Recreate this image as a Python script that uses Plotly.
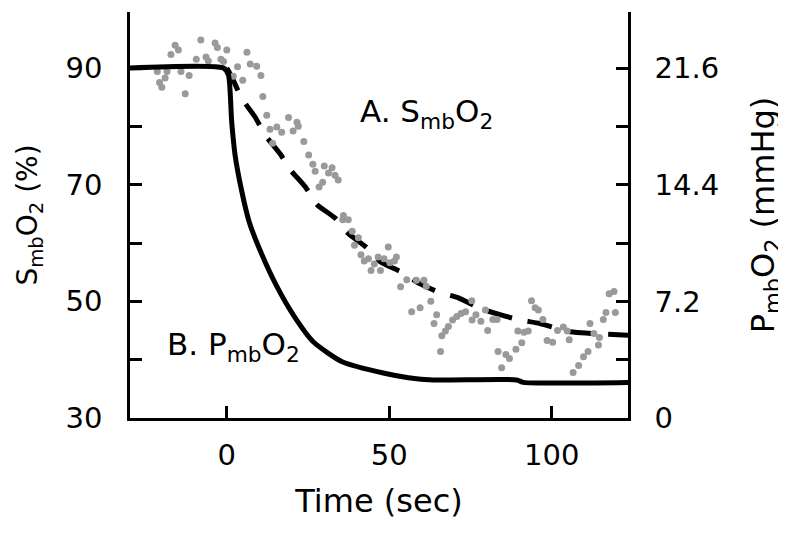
import plotly.graph_objects as go

# Measured SmbO2 (%) data points (gray dots)
t_meas = [-21.4, -20.7, -20.0, -19.0, -18.4, -17.2, -15.9, -14.9, -14.1, -12.8,
          -11.6, -9.4, -8.0, -6.4, -5.7, -3.6, -2.9, -1.8, -1.0, 0.0,
          2.0, 3.3, 4.9, 6.2, 7.2, 9.2, 10.5, 11.1, 12.3, 13.3,
          14.1, 15.4, 16.9, 19.0, 20.4, 21.6, 22.0, 23.7, 25.2, 26.5,
          27.2, 28.4, 29.5, 30.0, 31.3, 32.4, 33.3, 34.3, 35.7, 35.9,
          37.4, 38.6, 39.3, 40.5, 41.3, 42.3, 43.6, 44.4, 45.4, 46.6,
          47.3, 48.4, 49.7, 50.2, 51.6, 52.2, 53.5, 55.4, 56.9, 58.4,
          59.5, 60.7, 61.4, 62.8, 64.6, 63.8, 65.8, 66.2, 67.3, 68.2,
          69.5, 70.8, 72.1, 73.5, 75.4, 76.7, 75.5, 78.2, 79.6, 80.3,
          81.9, 83.2, 83.5, 84.6, 85.9, 87.0, 89.0, 89.6, 90.8, 91.5,
          92.8, 93.8, 94.9, 95.9, 97.3, 98.6, 100.3, 101.8, 103.6, 104.8,
          105.4, 106.6, 108.3, 109.8, 111.2, 111.8, 113.0, 114.4, 114.7, 115.9,
          116.7, 117.7, 119.2, 119.6]
s_meas = [89.4, 87.5, 86.7, 88.3, 89.4, 92.3, 93.9, 93.1, 89.4, 85.6,
          88.7, 91.5, 94.8, 91.9, 91.2, 94.3, 93.5, 91.5, 91.1, 93.1,
          88.6, 90.2, 87.9, 92.7, 90.7, 90.3, 88.7, 85.1, 81.9, 79.5,
          77.1, 79.9, 79.0, 81.5, 79.2, 80.7, 80.0, 77.4, 75.1, 73.5,
          72.3, 69.6, 70.4, 73.2, 72.0, 72.9, 71.6, 70.8, 64.0, 64.7,
          64.0, 62.0, 59.6, 60.9, 58.0, 56.9, 57.3, 55.3, 56.4, 57.6,
          55.3, 57.3, 59.3, 56.6, 56.9, 57.6, 52.5, 53.7, 48.2, 53.6,
          48.9, 53.6, 52.6, 50.0, 47.7, 46.2, 41.4, 44.1, 44.9, 45.7,
          46.8, 47.4, 47.9, 48.2, 50.1, 47.7, 46.8, 46.6, 48.5, 45.0,
          46.9, 46.9, 41.4, 38.6, 40.9, 40.2, 41.8, 44.9, 42.9, 44.7,
          44.9, 50.1, 48.9, 48.5, 46.9, 43.3, 43.0, 45.0, 45.6, 44.9,
          43.4, 37.8, 39.0, 40.5, 41.4, 46.2, 44.5, 42.5, 43.8, 46.9,
          48.1, 51.3, 51.7, 48.1]

# Model curve A: SmbO2 (%) (dashed)
t_model_s = [0.0, 1.5, 4.6, 8.7, 11.8, 16.4, 19.5, 24.2, 27.7, 33.3, 37.3, 43.1,
             47.2, 53.8, 59.5, 65.6, 71.3, 77.9, 83.6, 90.2, 96.4, 104.6, 109.2,
             116.4, 123.5]
s_model = [90.0, 88.5, 84.8, 81.6, 78.5, 75.3, 72.6, 69.6, 66.6, 64.3, 61.7, 59.2,
           56.8, 55.0, 53.0, 51.5, 50.6, 48.8, 47.8, 46.8, 46.2, 44.9, 44.6,
           44.4, 44.2]

# Model curve B: PmbO2 (mmHg) (solid, right axis)
t_model_p = [-30.0, -1.0, 0.5, 1.5, 2.55, 4.4, 6.9, 10.2, 15.2, 20.7, 26.6, 35.5,
             48.5, 55.9, 63.5, 89.2, 91.3, 124.0]
p_model = [21.6, 21.6, 21.17, 18.29, 16.23, 14.19, 12.1, 10.37, 8.2, 6.29, 4.71, 3.47,
           2.76, 2.49, 2.35, 2.35, 2.2, 2.2]

left_ticks = [30, 40, 50, 60, 70, 80, 90]
left_labels = ["30", "", "50", "", "70", "", "90"]
right_ticks = [0, 3.6, 7.2, 10.8, 14.4, 18.0, 21.6]
right_labels = ["0", "", "7.2", "", "14.4", "", "21.6"]
x_ticks = [0, 50, 100]

FONT = "DejaVu Sans"

fig = go.Figure()
fig.add_trace(go.Scatter(x=t_model_p, y=p_model, mode="lines", yaxis="y2",
                         line=dict(color="black", width=5, shape="spline", smoothing=0.6),
                         showlegend=False))
fig.add_trace(go.Scatter(x=t_model_s, y=s_model, mode="lines",
                         line=dict(color="black", width=5, dash="25px,16px",
                                   shape="spline", smoothing=0.6),
                         showlegend=False))
fig.add_trace(go.Scatter(x=t_meas, y=s_meas, mode="markers",
                         marker=dict(color="#9a9a9a", size=7, line=dict(width=0)),
                         showlegend=False))

axis_common = dict(showgrid=False, zeroline=False, showline=True, linecolor="black",
                   linewidth=2.5, ticks="inside", ticklen=12, tickwidth=2.5,
                   tickcolor="black", tickfont=dict(family=FONT, size=29, color="black"),
                   automargin=False)

fig.update_layout(
    width=778, height=529,
    margin=dict(l=122, r=158, t=4, b=119, autoexpand=False),
    plot_bgcolor="white", paper_bgcolor="white",
    font=dict(family=FONT, color="black"),
    xaxis=dict(range=[-29.8, 123.5], tickvals=x_ticks, ticklabelstandoff=9,
               title=dict(text="Time (sec)", font=dict(family=FONT, size=32), standoff=20),
               **axis_common),
    yaxis=dict(range=[30, 99.6], tickvals=left_ticks, ticktext=left_labels,
               ticklabelstandoff=19,
               title=dict(text="S<sub>mb</sub>O<sub>2</sub> (%)", font=dict(family=FONT, size=28),
                          standoff=20),
               **axis_common),
    yaxis2=dict(range=[0, 25.06], tickvals=right_ticks, ticktext=right_labels,
                overlaying="y", side="right", ticklabelstandoff=18,
                title=dict(text="P<sub>mb</sub>O<sub>2</sub> (mmHg)", font=dict(family=FONT, size=32),
                           standoff=34),
                **axis_common),
    annotations=[
        dict(text="A. S<sub>mb</sub>O<sub>2</sub>", x=40.5, y=82.2, xref="x", yref="y",
             xanchor="left", yanchor="middle", showarrow=False,
             font=dict(family=FONT, size=31, color="black")),
        dict(text="B. P<sub>mb</sub>O<sub>2</sub>", x=-19.0, y=42.3, xref="x", yref="y",
             xanchor="left", yanchor="middle", showarrow=False,
             font=dict(family=FONT, size=31, color="black")),
    ],
)

fig.write_html("out.html")
